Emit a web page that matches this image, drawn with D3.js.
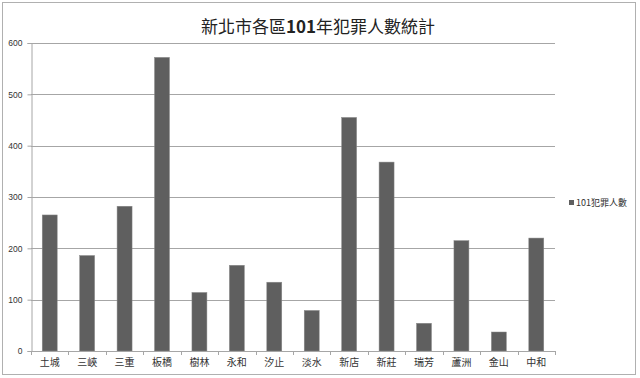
<!DOCTYPE html>
<html>
<head>
<meta charset="utf-8">
<script src="https://cdn.jsdelivr.net/npm/d3@7"></script>
<style>
  body { margin: 0; background: #fff; }
  svg { display: block; }
</style>
</head>
<body>
<svg></svg>
<script>
const districts = ["土城", "三峽", "三重", "板橋", "樹林", "永和", "汐止", "淡水", "新店", "新莊", "瑞芳", "蘆洲", "金山", "中和"]
const crimes = [265, 186, 282, 572, 114, 167, 134, 79, 455, 368, 54, 215, 37, 220]
const yTicks = [0, 100, 200, 300, 400, 500, 600]
const titleParts = ["新北市各區", "101", "年犯罪人數統計"]
const seriesName = "101犯罪人數"

const width = 640, height = 378
const plot = {left: 31, right: 555, top: 43, bottom: 351}
const fontFam = "'Noto Sans CJK TC', 'Noto Sans', sans-serif"

let svg = d3.select("svg")
    .attr("width", width)
    .attr("height", height)

// outer frame
svg.append("rect")
    .attr("x", 2.5).attr("y", 2.5)
    .attr("width", 633).attr("height", 372)
    .attr("fill", "#fff")
    .attr("stroke", "#b0b0b0")

let x = d3.scaleBand()
    .domain(districts)
    .range([plot.left, plot.right])
    .paddingInner(0.6)
    .paddingOuter(0.3)

let y = d3.scaleLinear()
    .domain([0, 600])
    .range([plot.bottom, plot.top])

// gridlines
svg.append("g")
    .selectAll("line")
    .data(yTicks.filter(d => d > 0))
    .enter()
    .append("line")
    .attr("x1", plot.left)
    .attr("x2", plot.right)
    .attr("y1", d => Math.round(y(d)) + 0.5)
    .attr("y2", d => Math.round(y(d)) + 0.5)
    .attr("stroke", "#a6a6a6")

// y axis
let yAxis = svg.append("g")
    .attr("transform", `translate(${plot.left + 0.5},0)`)
    .call(d3.axisLeft(y).tickValues(yTicks).tickSize(4).tickPadding(5))
yAxis.select(".domain").attr("stroke", "#a6a6a6")
yAxis.selectAll(".tick line").attr("stroke", "#a6a6a6")
yAxis.selectAll(".tick text")
    .attr("font-family", "'Liberation Sans', Arial, sans-serif")
    .attr("font-size", 8.5)
    .attr("fill", "#333")

// bars
svg.append("g")
    .selectAll("rect")
    .data(districts)
    .enter()
    .append("rect")
    .attr("x", d => x(d))
    .attr("y", (d, i) => y(crimes[i]))
    .attr("width", x.bandwidth())
    .attr("height", (d, i) => y(0) - y(crimes[i]))
    .attr("fill", "#5f5f5f")
    .attr("stroke", "#8a8a8a")
    .attr("stroke-width", 0.5)

// x axis: ticks between categories
let step = x.step()
let xg = svg.append("g")
xg.append("line")
    .attr("x1", plot.left).attr("x2", plot.right)
    .attr("y1", plot.bottom + 0.5).attr("y2", plot.bottom + 0.5)
    .attr("stroke", "#a6a6a6")
xg.selectAll("line.tk")
    .data(d3.range(districts.length + 1))
    .enter()
    .append("line")
    .attr("class", "tk")
    .attr("x1", i => Math.round(plot.left + i * step) + 0.5)
    .attr("x2", i => Math.round(plot.left + i * step) + 0.5)
    .attr("y1", plot.bottom)
    .attr("y2", plot.bottom + 4)
    .attr("stroke", "#a6a6a6")
xg.selectAll("text")
    .data(districts)
    .enter()
    .append("text")
    .attr("x", d => x(d) + x.bandwidth() / 2)
    .attr("y", 366)
    .attr("text-anchor", "middle")
    .attr("font-family", fontFam)
    .attr("font-size", 10)
    .attr("fill", "#333")
    .text(d => d)

// title (digits bold, like the original)
let t = svg.append("text")
    .attr("x", 318)
    .attr("y", 33)
    .attr("text-anchor", "middle")
    .attr("font-family", fontFam)
    .attr("font-size", 17)
    .attr("fill", "#222")
t.selectAll("tspan")
    .data(titleParts)
    .enter()
    .append("tspan")
    .attr("font-weight", (d, i) => i == 1 ? "bold" : "normal")
    .text(d => d)

// legend
svg.append("rect")
    .attr("x", 569).attr("y", 200)
    .attr("width", 5).attr("height", 5)
    .attr("fill", "#5f5f5f")
svg.append("text")
    .attr("x", 576)
    .attr("y", 206)
    .attr("font-family", fontFam)
    .attr("font-size", 9)
    .attr("fill", "#333")
    .text(seriesName)
</script>
</body>
</html>
